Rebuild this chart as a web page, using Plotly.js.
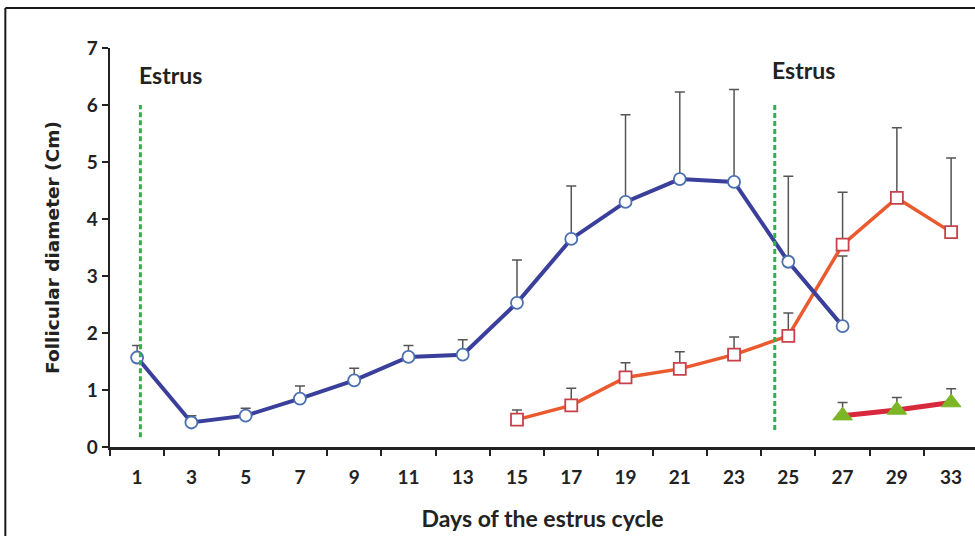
<!DOCTYPE html>
<html>
<head>
<meta charset="utf-8">
<script src="https://cdn.plot.ly/plotly-3.0.1.min.js"></script>
<style>html,body{margin:0;padding:0;background:#fff;}#chart{width:975px;height:536px;}</style>
</head>
<body>
<div id="chart"></div>
<script>
// Days (category labels)
const days = ["1","3","5","7","9","11","13","15","17","19","21","23","25","27","29","33"];

// Series 1: blue circles (first follicle wave)
const blueDays = ["1","3","5","7","9","11","13","15","17","19","21","23","25","27"];
const blueMean = [1.57,0.43,0.55,0.85,1.17,1.58,1.62,2.53,3.65,4.30,4.70,4.65,3.25,2.12];
const blueErr  = [0.21,0.12,0.13,0.22,0.21,0.20,0.26,0.75,0.93,1.53,1.53,1.62,1.50,1.23];

// Series 2: red squares (second follicle wave)
const redDays = ["15","17","19","21","23","25","27","29","33"];
const redMean = [0.48,0.73,1.22,1.37,1.62,1.95,3.55,4.37,3.77];
const redErr  = [0.17,0.30,0.26,0.30,0.31,0.40,0.92,1.23,1.30];

// Series 3: green triangles
const greenDays = ["27","29","33"];
const greenMean = [0.55,0.65,0.78];
const greenErr  = [0.23,0.22,0.24];

const zeros = a => a.map(() => 0);
const FONT = "Lato, 'Open Sans', sans-serif";
const WIDE = "'DejaVu Sans', Verdana, sans-serif";

const errStyle = (arr) => ({type:'data', symmetric:false, array:arr, arrayminus:zeros(arr),
  color:'#555555', thickness:1.5, width:5});

const traces = [
  {x:redDays, y:redMean, type:'scatter', mode:'lines+markers', name:'wave 2',
   line:{color:'#ea5a2e', width:3.5},
   marker:{symbol:'square', size:12, color:'#ffffff', line:{color:'#c8404a', width:1.8}},
   error_y:errStyle(redErr)},
  {x:blueDays, y:blueMean, type:'scatter', mode:'lines+markers', name:'wave 1',
   line:{color:'#3b3f9c', width:4},
   marker:{symbol:'circle', size:12, color:'#ffffff', line:{color:'#4a6fb0', width:1.8}},
   error_y:errStyle(blueErr)},
  {x:greenDays, y:greenMean, type:'scatter', mode:'lines+markers', name:'wave 3',
   line:{color:'#d8283c', width:5},
   marker:{symbol:'triangle-up', size:17, color:'#7cb526', line:{color:'#7cb526', width:1}},
   error_y:errStyle(greenErr)}
];

const layout = {
  width:975, height:536,
  margin:{l:110, r:0, t:48, b:89},
  paper_bgcolor:'#ffffff', plot_bgcolor:'#ffffff',
  showlegend:false,
  font:{family:FONT, color:'#222222'},
  xaxis:{
    type:'category', categoryorder:'array', categoryarray:days,
    range:[-0.5, 15.44], tickson:'boundaries',
    showgrid:false, zeroline:false,
    showline:true, linecolor:'#222222', linewidth:2.5,
    ticks:'outside', ticklen:6, tickwidth:2, tickcolor:'#222222',
    tickfont:{family:FONT, size:19, color:'#222222', weight:'bold'},
    ticklabelstandoff:12,
    title:{text:'<b>Days of the estrus cycle</b>', font:{family:FONT, size:23, color:'#222222'}, standoff:24},
    automargin:false, fixedrange:true
  },
  yaxis:{
    range:[0,7], dtick:1, tick0:0,
    showgrid:false, zeroline:false,
    showline:true, linecolor:'#222222', linewidth:2.5,
    ticks:'outside', ticklen:6, tickwidth:2, tickcolor:'#222222',
    tickfont:{family:FONT, size:19, color:'#222222', weight:'bold'},
    title:{text:'<b>Follicular diameter (Cm)</b>', font:{family:WIDE, size:18.5, color:'#222222'}, standoff:22},
    automargin:false, fixedrange:true
  },
  shapes:[
    {type:'line', xref:'x', yref:'y', x0:0.06, x1:0.06, y0:0.17, y1:6.0, layer:'above',
     line:{color:'#2fb04a', width:3, dash:'5px,3px'}},
    {type:'line', xref:'x', yref:'y', x0:11.75, x1:11.75, y0:0.3, y1:6.0, layer:'above',
     line:{color:'#2fb04a', width:3, dash:'5px,3px'}},
    {type:'line', xref:'paper', yref:'paper', x0:-0.121, x1:-0.121, y0:-0.25, y1:1.1, layer:'above',
     line:{color:'#1a1a1a', width:2}},
    {type:'line', xref:'paper', yref:'paper', x0:-0.121, x1:1.01, y0:1.1, y1:1.1, layer:'above',
     line:{color:'#1a1a1a', width:2}}
  ],
  annotations:[
    {text:'<b>Estrus</b>', xref:'x', yref:'y', x:-0.01, y:6.53, xanchor:'left', yanchor:'middle',
     showarrow:false, font:{family:FONT, size:23, color:'#222222'}},
    {text:'<b>Estrus</b>', xref:'x', yref:'y', x:11.67, y:6.62, xanchor:'left', yanchor:'middle',
     showarrow:false, font:{family:FONT, size:23, color:'#222222'}}
  ]
};

Plotly.newPlot('chart', traces, layout, {displayModeBar:false, staticPlot:true});
</script>
</body>
</html>
